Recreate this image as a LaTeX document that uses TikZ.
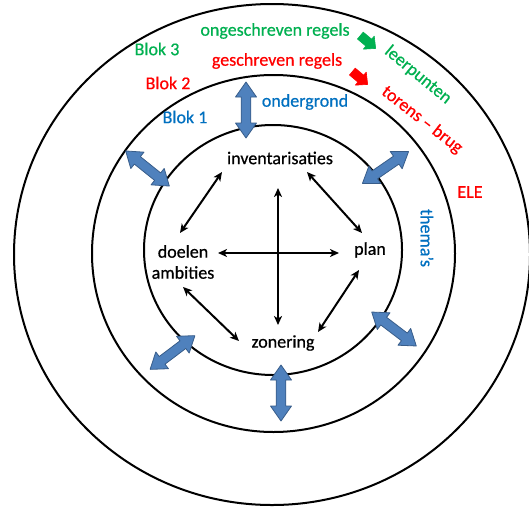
\documentclass[tikz,border=0pt]{standalone}
\usepackage{fontspec}
\setmainfont{Carlito}[FakeBold=0.6]
\usetikzlibrary{arrows.meta}
\definecolor{ggreen}{HTML}{00B050}
\definecolor{rred}{HTML}{FF0000}
\definecolor{bblue}{HTML}{0070C0}
\definecolor{afill}{HTML}{4F81BD}
\definecolor{adraw}{HTML}{385D8A}
\tikzset{
  dblarrow/.pic={\path[fill=afill,draw=adraw,line width=0.8pt,line join=round]
     (-28,0) -- (-13,-10.5) -- (-13,-4.8) -- (13,-4.8) -- (13,-10.5) -- (28,0)
     -- (13,10.5) -- (13,4.8) -- (-13,4.8) -- (-13,10.5) -- cycle;},
  rarrow/.pic={\path[fill=#1,draw=#1,line width=0.6pt,line join=round]
     (-10,-4.5) -- (1,-4.5) -- (1,-8.5) -- (10,0) -- (1,8.5) -- (1,4.5) -- (-10,4.5) -- cycle;},
}
\begin{document}
\begin{tikzpicture}[x=1pt,y=-1pt,
  ring/.style={line width=2pt},
  lbl/.style={font=\fontsize{18}{21}\selectfont, inner sep=1pt, align=center},
  conn/.style={line width=2pt, {Stealth[length=9pt,width=8pt,inset=2.5pt]}-{Stealth[length=9pt,width=8pt,inset=2.5pt]}},
]
\useasboundingbox (0,0) rectangle (529,506);
\fill[white] (0,0) rectangle (529,506);

% rings
\draw[ring] (272,254.5) ellipse [x radius=258, y radius=250.5];
\draw[ring] (273.5,253.5) ellipse [x radius=181.5, y radius=178.5];
\draw[ring] (273,250) ellipse [x radius=129, y radius=125];

% labels
\node[lbl, text=ggreen] (ong) at (275,31) {ongeschreven regels};
\node[lbl, text=ggreen] (b3) at (157,49) {Blok 3};
\node[lbl, text=rred] (ges) at (277,61) {geschreven regels};
\node[lbl, text=rred] (b2) at (168,83) {Blok 2};
\node[lbl, text=bblue] (ond) at (305,102) {ondergrond};
\node[lbl, text=bblue] (b1) at (185,117) {Blok 1};
\node[lbl, text=ggreen, rotate=-39.5] (leer) at (418,75) {leerpunten};
\node[lbl, text=rred, rotate=-38] (tor) at (422,120) {torens – brug};
\node[lbl, text=rred] (ele) at (470,192) {ELE};
\node[lbl, text=bblue, rotate=-90] (thema) at (427,238) {thema's};

\node[lbl] (inv) at (280,158) {inventarisaties};
\node[lbl] (doel) at (183,262) {doelen\\ambities};
\node[lbl] (plan) at (370,250) {plan};
\node[lbl] (zon) at (283,343) {zonering};

% small block arrows
\pic[rotate=-40] at (368,42) {rarrow=ggreen};
\pic[rotate=-40] at (360,78) {rarrow=rred};

% connector end points
\coordinate (i1) at (222,172);
\coordinate (d1) at (180,233);
\coordinate (i2) at (307,172);
\coordinate (p1) at (362,233);
\coordinate (vt) at (278,188);
\coordinate (vb) at (278,325);
\coordinate (hl) at (218,253);
\coordinate (hr) at (339,253);
\coordinate (d2) at (183,287);
\coordinate (z1) at (239,341);
\coordinate (p2) at (359,270);
\coordinate (z2) at (318,332);

\draw[conn] (i1) -- (d1);
\draw[conn] (i2) -- (p1);
\draw[conn] (vt) -- (vb);
\draw[conn] (hl) -- (hr);
\draw[conn] (d2) -- (z1);
\draw[conn] (p2) -- (z2);

% blue double arrows
\pic[rotate=90] at (246,110) {dblarrow};
\pic[rotate=90] at (281,393) {dblarrow};
\pic[rotate=-38.8] at (147.5,168.5) {dblarrow};
\pic[rotate=34.6] at (385.5,167.5) {dblarrow};
\pic[rotate=37] at (172.5,352.5) {dblarrow};
\pic[rotate=-37.3] at (394,329) {dblarrow};
\end{tikzpicture}
\end{document}
